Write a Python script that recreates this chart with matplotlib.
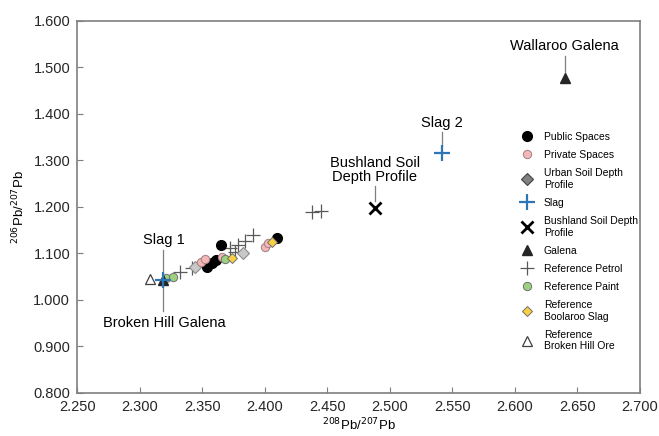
import numpy as np
import matplotlib
matplotlib.use('Agg')
import matplotlib.pyplot as plt

plt.rcParams['font.family'] = ['Liberation Sans', 'DejaVu Sans']

# 208Pb/207Pb (x) and 206Pb/207Pb (y) values
public_x = [2.354, 2.358, 2.361, 2.365, 2.410]
public_y = [1.071, 1.080, 1.085, 1.119, 1.132]
private_x = [2.349, 2.352, 2.366, 2.400, 2.403]
private_y = [1.082, 1.087, 1.092, 1.114, 1.123]
urban_x = [2.344, 2.383]
urban_y = [1.070, 1.100]
slag_x = [2.319, 2.542]
slag_y = [1.042, 1.316]
bush_x = [2.488]
bush_y = [1.198]
galena_x = [2.319, 2.640]
galena_y = [1.043, 1.478]
petrol_x = [2.332, 2.342, 2.372, 2.376, 2.379, 2.384, 2.391, 2.438, 2.445]
petrol_y = [1.060, 1.068, 1.112, 1.104, 1.118, 1.126, 1.139, 1.190, 1.192]
paint_x = [2.321, 2.327, 2.368]
paint_y = [1.046, 1.050, 1.088]
boolaroo_x = [2.374, 2.406]
boolaroo_y = [1.090, 1.124]
bhore_x = [2.308]
bhore_y = [1.045]

fig = plt.figure(figsize=(6.59, 4.36), dpi=100)
ax = fig.add_axes([0.117, 0.099, 0.854, 0.853])

ax.plot(petrol_x, petrol_y, ls='none', marker='+', ms=10, mew=0.9, color='#595959', label='Reference Petrol', zorder=3)
ax.plot(urban_x, urban_y, ls='none', marker='D', ms=6, mfc='#c8c8c8', mec='#8c8c8c', mew=0.8, label='Urban Soil Depth\nProfile', zorder=3)
ax.plot(public_x, public_y, ls='none', marker='o', ms=7, mfc='black', mec='black', label='Public Spaces', zorder=4)
ax.plot(private_x, private_y, ls='none', marker='o', ms=6, mfc='#f4b6b6', mec='#a08080', mew=0.7, label='Private Spaces', zorder=4)
ax.plot(paint_x, paint_y, ls='none', marker='o', ms=6, mfc='#9dd17f', mec='#707070', mew=0.7, label='Reference Paint', zorder=5)
ax.plot(boolaroo_x, boolaroo_y, ls='none', marker='D', ms=5, mfc='#f7d044', mec='#707070', mew=0.7, label='Reference\nBoolaroo Slag', zorder=5)
ax.plot(bhore_x, bhore_y, ls='none', marker='^', ms=7, mfc='white', mec='#404040', mew=0.9, label='Reference\nBroken Hill Ore', zorder=5)
ax.plot(galena_x, galena_y, ls='none', marker='^', ms=7, color='#262626', label='Galena', zorder=6)
ax.plot(slag_x, slag_y, ls='none', marker='+', ms=11, mew=1.6, color='#2e75b6', label='Slag', zorder=7)
ax.plot(bush_x, bush_y, ls='none', marker='x', ms=8, mew=2, color='black', label='Bushland Soil Depth\nProfile', zorder=6)

# annotations with leader lines
line_kw = dict(color='#7f7f7f', lw=0.9, zorder=2)
ax.plot([2.640, 2.640], [1.490, 1.525], **line_kw)
ax.text(2.640, 1.530, 'Wallaroo Galena', ha='center', va='bottom', fontsize=10.5)
ax.plot([2.542, 2.542], [1.330, 1.362], **line_kw)
ax.text(2.542, 1.366, 'Slag 2', ha='center', va='bottom', fontsize=10.5)
ax.plot([2.488, 2.488], [1.212, 1.245], **line_kw)
ax.text(2.488, 1.249, 'Bushland Soil\nDepth Profile', ha='center', va='bottom', fontsize=10.5, linespacing=1.0)
ax.plot([2.319, 2.319], [0.975, 1.108], **line_kw)
ax.text(2.319, 1.113, 'Slag 1', ha='center', va='bottom', fontsize=10.5)
ax.text(2.320, 0.965, 'Broken Hill Galena', ha='center', va='top', fontsize=10.5)

ax.set_xlim(2.25, 2.70)
ax.set_ylim(0.8, 1.6)
ax.set_xticks(np.arange(2.25, 2.701, 0.05))
ax.set_yticks(np.arange(0.8, 1.601, 0.1))
ax.xaxis.set_major_formatter(matplotlib.ticker.FormatStrFormatter('%.3f'))
ax.yaxis.set_major_formatter(matplotlib.ticker.FormatStrFormatter('%.3f'))
ax.tick_params(direction='in', length=4, color='#7f7f7f', labelsize=10.5, pad=5,
               labelcolor='#262626')
for sp in ax.spines.values():
    sp.set_color('#7f7f7f')
    sp.set_linewidth(1.2)

ax.set_xlabel(r'$^{208}$Pb/$^{207}$Pb', fontsize=9.5, labelpad=2)
ax.set_ylabel(r'$^{206}$Pb/$^{207}$Pb', fontsize=9.5, labelpad=4)

order = ['Public Spaces', 'Private Spaces', 'Urban Soil Depth\nProfile', 'Slag',
         'Bushland Soil Depth\nProfile', 'Galena', 'Reference Petrol', 'Reference Paint',
         'Reference\nBoolaroo Slag', 'Reference\nBroken Hill Ore']
handles, labels = ax.get_legend_handles_labels()
hmap = dict(zip(labels, handles))
leg = ax.legend([hmap[l] for l in order], order, loc='upper left',
                bbox_to_anchor=(0.781, 0.713), frameon=False, fontsize=7.5,
                labelspacing=0.78, handletextpad=1.0, handlelength=1.2,
                borderaxespad=0)
for h, l in zip(leg.legend_handles, order):
    if l.startswith('Urban'):
        h.set_markerfacecolor('#808080')
        h.set_markeredgecolor('#404040')

fig.savefig('out.png', dpi=100)
